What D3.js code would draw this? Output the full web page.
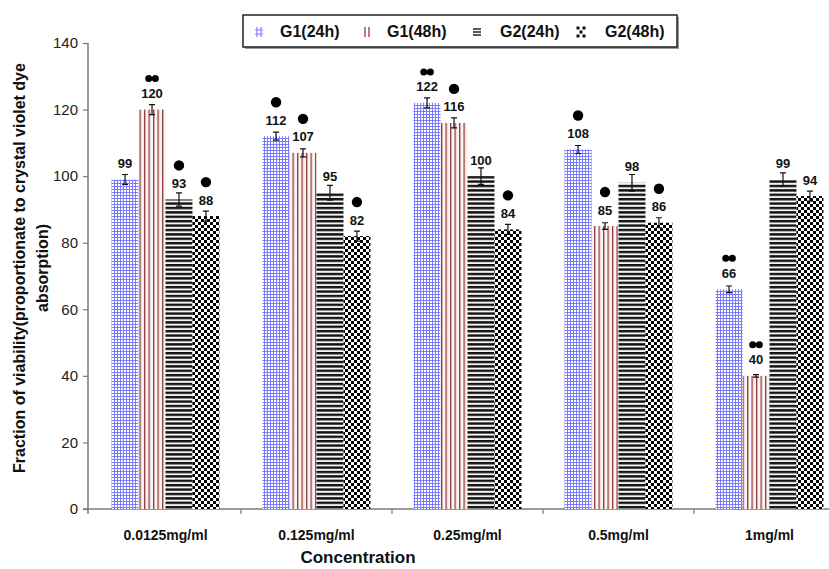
<!DOCTYPE html>
<html>
<head>
<meta charset="utf-8">
<script src="https://d3js.org/d3.v7.min.js"></script>
<style>
  body { margin: 0; background: #fff; }
  text { font-family: Arial, "Liberation Sans", sans-serif; }
</style>
</head>
<body>
<div id="chart"></div>
<script>
var categories = ["0.0125mg/ml", "0.125mg/ml", "0.25mg/ml", "0.5mg/ml", "1mg/ml"];
var series = ["G1(24h)", "G1(48h)", "G2(24h)", "G2(48h)"];
var g1_24 = [99, 112, 122, 108, 66];
var g1_48 = [120, 107, 116, 85, 40];
var g2_24 = [93, 95, 100, 98, 99];
var g2_48 = [88, 82, 84, 86, 94];
var err_g1_24 = [1.5, 1.2, 1.5, 1.2, 1.0];
var err_g1_48 = [1.5, 1.2, 1.5, 1.0, 0.4];
var err_g2_24 = [2.0, 2.2, 2.5, 2.5, 2.0];
var err_g2_48 = [1.5, 1.5, 1.5, 1.5, 1.5];
// number of significance dots above each label
var sig_g1_24 = [0, 1, 2, 1, 2];
var sig_g1_48 = [2, 1, 1, 1, 2];
var sig_g2_24 = [1, 0, 0, 0, 0];
var sig_g2_48 = [1, 1, 1, 1, 0];
var yTicks = [0, 20, 40, 60, 80, 100, 120, 140];

var values = [g1_24, g1_48, g2_24, g2_48];
var errors = [err_g1_24, err_g1_48, err_g2_24, err_g2_48];
var sigs = [sig_g1_24, sig_g1_48, sig_g2_24, sig_g2_48];

var width = 829, height = 569;

var svg = d3.select("#chart").append("svg")
    .attr("width", width)
    .attr("height", height);

svg.append("rect").attr("width", width).attr("height", height).attr("fill", "#fff");

// patterns
var defs = svg.append("defs");

var p0 = defs.append("pattern").attr("id", "pat0").attr("patternUnits", "userSpaceOnUse")
    .attr("width", 3).attr("height", 3);
p0.append("rect").attr("width", 3).attr("height", 3).attr("fill", "#fff");
p0.append("rect").attr("width", 3).attr("height", 1).attr("fill", "#7b7bff");
p0.append("rect").attr("width", 1).attr("height", 3).attr("fill", "#7b7bff");

var p1 = defs.append("pattern").attr("id", "pat1").attr("patternUnits", "userSpaceOnUse")
    .attr("width", 4.5).attr("height", 4);
p1.append("rect").attr("width", 4.5).attr("height", 4).attr("fill", "#fbf2f2");
p1.append("rect").attr("width", 1.3).attr("height", 4).attr("fill", "#8e3c3c");

var p2 = defs.append("pattern").attr("id", "pat2").attr("patternUnits", "userSpaceOnUse")
    .attr("width", 4).attr("height", 4.4);
p2.append("rect").attr("width", 4).attr("height", 4.4).attr("fill", "#f4f4f4");
p2.append("rect").attr("width", 4).attr("height", 2.4).attr("fill", "#111");

var p3 = defs.append("pattern").attr("id", "pat3").attr("patternUnits", "userSpaceOnUse")
    .attr("width", 6).attr("height", 6);
p3.append("rect").attr("width", 6).attr("height", 6).attr("fill", "#fff");
p3.append("rect").attr("width", 3).attr("height", 3).attr("fill", "#000");
p3.append("rect").attr("x", 3).attr("y", 3).attr("width", 3).attr("height", 3).attr("fill", "#000");

// scales
var x0 = d3.scaleBand().domain(categories).range([90, 845]).padding(0);
var x1 = d3.scaleBand().domain(series).range([0, x0.bandwidth()]).paddingInner(0).paddingOuter(0.8);
var y = d3.scaleLinear().domain([0, 140]).range([509, 43]);

// y axis
var yAxis = svg.append("g")
    .attr("transform", "translate(88,0)")
    .call(d3.axisLeft(y).tickValues(yTicks).tickSize(5).tickPadding(5));
yAxis.select(".domain").attr("stroke", "#7a7a7a").attr("stroke-width", 1.5).attr("d", "M0," + y(140) + "V514");
yAxis.selectAll(".tick line").attr("stroke", "#7a7a7a").attr("stroke-width", 1.2);
yAxis.selectAll(".tick text").attr("font-size", 15).attr("fill", "#222")
    .style("font-family", "Arial, 'Liberation Sans', sans-serif");

// x axis
var xAxis = svg.append("g")
    .attr("transform", "translate(0,509)");
xAxis.append("line").attr("x1", 83).attr("x2", width).attr("y1", 0).attr("y2", 0)
    .attr("stroke", "#7a7a7a").attr("stroke-width", 1.5);
xAxis.selectAll(".xtick").data(categories.slice(1)).enter().append("line")
    .attr("x1", function(d) { return x0(d); })
    .attr("x2", function(d) { return x0(d); })
    .attr("y1", 0).attr("y2", 5)
    .attr("stroke", "#7a7a7a").attr("stroke-width", 1.2);
xAxis.selectAll(".xlab").data(categories).enter().append("text")
    .attr("x", function(d) { return x0(d) + x0.bandwidth() / 2; })
    .attr("y", 31)
    .attr("text-anchor", "middle")
    .attr("font-size", 14).attr("font-weight", "bold").attr("fill", "#111")
    .text(function(d) { return d; });

// bars
series.forEach(function(s, si) {
    var g = svg.append("g");
    categories.forEach(function(c, ci) {
        var v = values[si][ci], e = errors[si][ci];
        var bx = x0(c) + x1(s), bw = x1.bandwidth(), cx = bx + bw / 2;

        g.append("rect")
            .attr("x", bx).attr("y", y(v))
            .attr("width", bw).attr("height", y(0) - y(v))
            .attr("fill", "url(#pat" + si + ")");

        // error bar
        g.append("path")
            .attr("d", "M" + (cx - 3) + "," + y(v + e) + "H" + (cx + 3) +
                       "M" + cx + "," + y(v + e) + "V" + y(v - e) +
                       "M" + (cx - 3) + "," + y(v - e) + "H" + (cx + 3))
            .attr("stroke", "#111").attr("stroke-width", 1.2).attr("fill", "none");

        var ly = y(v) - 16;
        g.append("text")
            .attr("x", cx).attr("y", ly + 4.5)
            .attr("text-anchor", "middle")
            .attr("font-size", 13).attr("font-weight", "bold").attr("fill", "#111")
            .text(v);

        var n = sigs[si][ci];
        if (n == 1) {
            g.append("circle").attr("cx", cx).attr("cy", ly - 18).attr("r", 5.2).attr("fill", "#000");
        } else if (n == 2) {
            g.append("circle").attr("cx", cx - 3.3).attr("cy", ly - 15).attr("r", 3.5).attr("fill", "#000");
            g.append("circle").attr("cx", cx + 3.3).attr("cy", ly - 15).attr("r", 3.5).attr("fill", "#000");
        }
    });
});

// legend
var lg = svg.append("g");
lg.append("rect").attr("x", 245).attr("y", 17).attr("width", 434).attr("height", 32).attr("fill", "#9a9a9a");
lg.append("rect").attr("x", 243).attr("y", 15).attr("width", 434).attr("height", 32)
    .attr("fill", "#fff").attr("stroke", "#222").attr("stroke-width", 1.5);

var legendX = [258, 367, 477, 581];
var textX = [280, 387, 500, 605];
series.forEach(function(s, si) {
    var ix = legendX[si], iy = 27;
    if (si == 0) {
        lg.append("path").attr("d", "M" + (ix - 1) + "," + iy + "v10M" + (ix + 3) + "," + iy + "v10M" + (ix - 3) + "," + (iy + 3) + "h8M" + (ix - 3) + "," + (iy + 7) + "h8")
            .attr("stroke", "#7b7bff").attr("stroke-width", 1.2);
    } else if (si == 1) {
        lg.append("path").attr("d", "M" + (ix - 2) + "," + iy + "v10M" + (ix + 2) + "," + iy + "v10")
            .attr("stroke", "#a04848").attr("stroke-width", 1.4);
    } else if (si == 2) {
        lg.append("path").attr("d", "M" + (ix - 4) + "," + (iy + 2) + "h8M" + (ix - 4) + "," + (iy + 5) + "h8M" + (ix - 4) + "," + (iy + 8) + "h8")
            .attr("stroke", "#222").attr("stroke-width", 1.3);
    } else {
        [[-3, 1], [3, 1], [0, 5], [-3, 9], [3, 9]].forEach(function(p) {
            lg.append("rect").attr("x", ix + p[0] - 1.5).attr("y", iy + p[1] - 1.5)
                .attr("width", 3).attr("height", 3).attr("fill", "#111");
        });
    }
    lg.append("text").attr("x", textX[si]).attr("y", 37)
        .attr("font-size", 16).attr("font-weight", "bold").attr("fill", "#111")
        .text(s);
});

// axis titles
svg.append("text")
    .attr("x", 358).attr("y", 563)
    .attr("text-anchor", "middle")
    .attr("font-size", 17).attr("font-weight", "bold").attr("fill", "#111")
    .text("Concentration");

var yt = svg.append("text")
    .attr("transform", "translate(0,268) rotate(-90)")
    .attr("text-anchor", "middle")
    .attr("font-size", 16).attr("font-weight", "bold").attr("fill", "#111");
yt.append("tspan").attr("x", 0).attr("y", 25).text("Fraction of viability(proportionate to crystal violet dye");
yt.append("tspan").attr("x", 0).attr("y", 48).text("absorption)");
</script>
</body>
</html>
